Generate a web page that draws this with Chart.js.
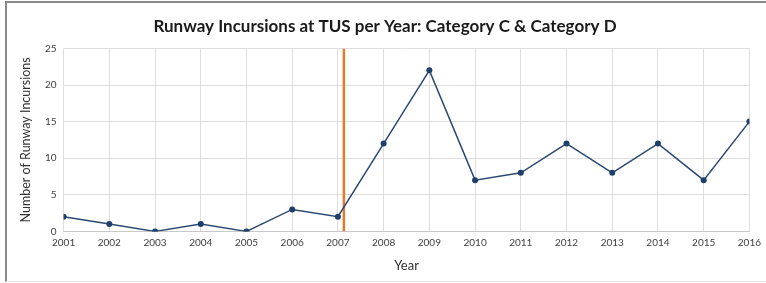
<!DOCTYPE html>
<html>
<head>
<meta charset="utf-8">
<script src="https://cdn.jsdelivr.net/npm/chart.js@4"></script>
<style>
  html, body { margin: 0; padding: 0; background: #fff; }
  #wrap { position: relative; width: 766px; height: 283px; }
  #frame { position: absolute; left: 5px; top: 1px; width: 770px; height: 278px;
           border-left: 2px solid #8a8a8a; border-top: 2px solid #8a8a8a; border-bottom: 1px solid #e4e4e4; }
  canvas { position: absolute; left: 0; top: 0; }
</style>
</head>
<body>
<div id="wrap">
  <div id="frame"></div>
  <canvas id="chart" width="766" height="283"></canvas>
</div>
<script>
// Données
const years = [2001, 2002, 2003, 2004, 2005, 2006, 2007, 2008, 2009, 2010, 2011, 2012, 2013, 2014, 2015, 2016];
const incursions = [2, 1, 0, 1, 0, 3, 2, 12, 22, 7, 8, 12, 8, 12, 7, 15];
const markerYear = 2007.13;
const yTicks = [0, 5, 10, 15, 20, 25];

const chartTitle = 'Runway Incursions at TUS per Year: Category C & Category D';
const xTitle = 'Year';
const yTitle = 'Number of Runway Incursions';

const ctx = document.getElementById('chart');

new Chart(ctx, {
    type: 'line',
    data: {
        datasets: [
            {
                label: 'Incursions',
                data: years.map((y, i) => ({ x: y, y: incursions[i] })),
                borderColor: '#2b4a73',
                backgroundColor: '#1f3f6b',
                borderWidth: 1.5,
                pointRadius: 3,
                pointBorderWidth: 0,
                tension: 0
            },
            {
                label: 'Marker',
                data: [{ x: markerYear, y: yTicks[0] }, { x: markerYear, y: yTicks[yTicks.length - 1] }],
                borderColor: '#e8782a',
                borderWidth: 2.5,
                pointRadius: 0,
                tension: 0
            }
        ]
    },
    options: {
        responsive: false,
        animation: false,
        layout: { padding: { left: 14, right: 10, top: 5, bottom: 5 } },
        plugins: {
            legend: { display: false },
            tooltip: { enabled: false },
            title: {
                display: true,
                text: chartTitle,
                color: '#1a1a1a',
                font: { family: 'Lato', size: 17, weight: 'bold' },
                padding: { top: 11, bottom: 12 }
            }
        },
        scales: {
            x: {
                type: 'linear',
                min: years[0],
                max: years[years.length - 1],
                ticks: {
                    stepSize: 1,
                    callback: v => String(v),
                    color: '#404040',
                    font: { family: 'Lato', size: 10 },
                    maxRotation: 0,
                    padding: 5
                },
                grid: { color: '#dedede', drawTicks: false },
                border: { color: '#c8c8c8' },
                title: {
                    display: true,
                    text: xTitle,
                    color: '#333',
                    font: { family: 'Lato', size: 13 },
                    padding: { top: 5 }
                }
            },
            y: {
                min: yTicks[0],
                max: yTicks[yTicks.length - 1],
                afterBuildTicks: axis => { axis.ticks = yTicks.map(v => ({ value: v })); },
                ticks: {
                    color: '#404040',
                    font: { family: 'Lato', size: 10 },
                    padding: 7
                },
                grid: { color: '#dedede', drawTicks: false },
                border: { display: false },
                title: {
                    display: true,
                    text: yTitle,
                    color: '#333',
                    font: { family: 'Lato', size: 12.5 },
                    padding: { bottom: 5 }
                }
            }
        }
    }
});
</script>
</body>
</html>
